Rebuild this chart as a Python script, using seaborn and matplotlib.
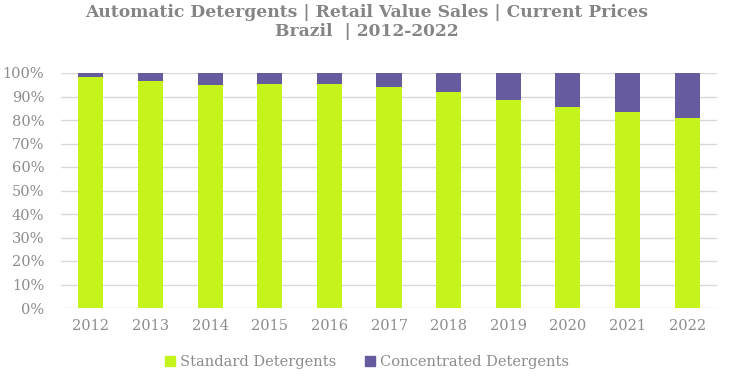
import matplotlib
matplotlib.use("Agg")
import matplotlib.pyplot as plt
import seaborn as sns
import pandas as pd
from matplotlib.patches import Patch
from matplotlib.ticker import FuncFormatter

years = ["2012", "2013", "2014", "2015", "2016", "2017", "2018", "2019", "2020", "2021", "2022"]
standard = [98.2, 96.5, 94.8, 95.5, 95.3, 94.0, 91.9, 88.7, 85.7, 83.3, 80.9]
concentrated = [1.8, 3.5, 5.2, 4.5, 4.7, 6.0, 8.1, 11.3, 14.3, 16.7, 19.1]
series_names = ["Standard Detergents", "Concentrated Detergents"]
colors = ["#C5F31C", "#675BA0"]
title = "Automatic Detergents | Retail Value Sales | Current Prices\nBrazil  | 2012-2022"

df = pd.DataFrame({"year": years, "standard": standard, "concentrated": concentrated})
df["total"] = df["standard"] + df["concentrated"]

sns.set_style("white")
plt.rcParams["font.family"] = ["DejaVu Serif"]
text_color = "#8C8C8C"

fig = plt.figure(figsize=(7.34, 3.77), dpi=100)
ax = fig.add_axes([61 / 734, 1 - 308 / 377, (717 - 61) / 734, (308 - 73) / 377])

sns.barplot(data=df, x="year", y="total", color=colors[1], width=0.42, ax=ax,
            saturation=1, zorder=2, edgecolor="none")
sns.barplot(data=df, x="year", y="standard", color=colors[0], width=0.42, ax=ax,
            saturation=1, zorder=3, edgecolor="none")

ax.set_ylim(0, 100)
ax.set_xlim(-0.5, len(years) - 0.5)
ax.set_yticks(range(0, 101, 10))
ax.yaxis.set_major_formatter(FuncFormatter(lambda v, p: f"{int(v)}%"))
ax.grid(axis="y", color="#D9D9D9", linewidth=1, zorder=0)
ax.set_axisbelow(True)
for s in ax.spines.values():
    s.set_visible(False)
ax.set_xlabel("")
ax.set_ylabel("")
ax.tick_params(axis="both", length=0, colors=text_color, labelsize=10.5)
ax.tick_params(axis="x", pad=8)
ax.tick_params(axis="y", pad=12)

fig.suptitle(title, x=0.5, y=0.99, fontsize=12.3, fontweight="bold", color="#858585",
             linespacing=1.15)

handles = [Patch(color=c, label=n) for c, n in zip(colors, series_names)]
fig.legend(handles=handles, loc="center", bbox_to_anchor=(0.5, 1 - 362 / 377), ncol=2,
           frameon=False, fontsize=10.5, labelcolor=text_color, handlelength=0.7,
           handleheight=0.7, handletextpad=0.3, columnspacing=2.0)

fig.savefig("out.png", dpi=100)
